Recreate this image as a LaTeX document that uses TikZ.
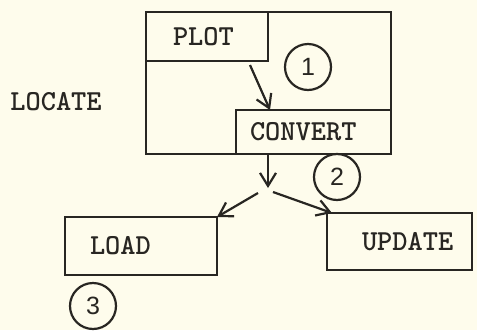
\documentclass[tikz,border=0pt]{standalone}
\usepackage{fontspec}
\setsansfont{Liberation Sans}
\usetikzlibrary{arrows.meta,calc}
\definecolor{paper}{RGB}{254,252,236}
\definecolor{ink}{RGB}{40,38,34}

\begin{document}
\begin{tikzpicture}[x=1pt,y=-1pt,
  modbox/.style={draw=ink, line width=2.5pt, rectangle, anchor=north west,
    outer sep=0pt, inner ysep=0pt, align=left, text=ink,
    font=\ttfamily\bfseries\fontsize{29}{32}\selectfont},
  label/.style={text=ink, font=\ttfamily\bfseries\fontsize{29}{32}\selectfont},
  num/.style={draw=ink, line width=2.2pt, circle, minimum size=46pt,
    inner sep=0pt, text=ink, font=\sffamily\fontsize{25}{30}\selectfont},
  flow/.style={draw=ink, line width=2.2pt,
    -{Straight Barb[length=13pt,width=16pt,line width=2.2pt]}}]

  % paper
  \path[use as bounding box, fill=paper] (0,0) rectangle (477,330);

  % LOCATE module and its two inner parts
  \node[modbox, minimum width=245pt, minimum height=142pt] (locate) at (146,12) {};
  \node[modbox, inner xsep=27pt, text width=68pt, minimum height=49pt] (plot) at (146,12) {PLOT};
  \node[modbox, inner xsep=14pt, text width=127pt, minimum height=44pt] (convert) at (236,110) {CONVERT};
  \node[label] (locatename) at (56,102) {LOCATE};

  % lower modules
  \node[modbox, inner xsep=25pt, text width=102pt, minimum height=58pt] (load) at (65,217) {LOAD};
  \node[modbox, inner xsep=35pt, text width=75pt, minimum height=57pt] (update) at (327,213) {UPDATE};

  % step numbers
  \node[num] (n1) at (308,67) {1};
  \node[num] (n2) at (337,177) {2};
  \node[num] (n3) at (93,306) {3};

  % flow of control
  \coordinate (split) at ($(convert.south west)+(32,37)$);
  \draw[flow] ($(plot.south west)+(104,4)$) -- ($(convert.north west)+(34,0)$);
  \draw[flow] ($(convert.south west)+(32,0)$) -- ($(split)+(0,-3)$);
  \draw[flow] ($(split)+(-10,2)$) -- (load.north east);
  \draw[flow] ($(split)+(5,1)$) -- ($(update.north west)+(5,0)$);
\end{tikzpicture}
\end{document}
